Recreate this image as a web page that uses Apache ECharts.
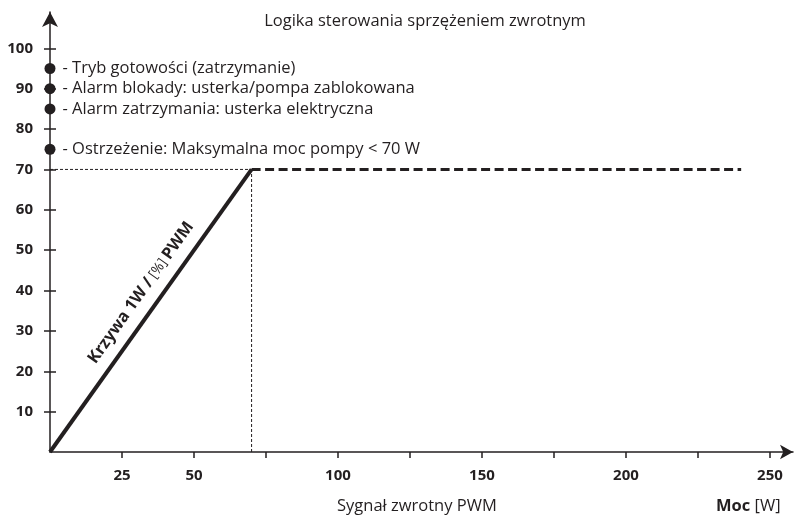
<!DOCTYPE html>
<html>
<head>
<meta charset="utf-8">
<script src="https://cdn.jsdelivr.net/npm/echarts@6/dist/echarts.min.js"></script>
<style>
  html, body { margin: 0; padding: 0; background: #fff; }
  #chart { width: 794px; height: 519px; }
</style>
</head>
<body>
<div id="chart"></div>
<script>
// Power feedback curve: linear ramp to the 70 W limit, then flat
const curvePoints = [[0, 0], [70, 70]];
const limitPoints = [[70, 70], [240, 70]];
const guideHorizontal = [[0, 70], [70, 70]];
const guideVertical = [[70, 0], [70, 70]];

// Status levels on the PWM axis
const statusLevels = [95, 90, 85, 75];
const statusTexts = [
  '- Tryb gotowości (zatrzymanie)',
  '- Alarm blokady: usterka/pompa zablokowana',
  '- Alarm zatrzymania: usterka elektryczna',
  '- Ostrzeżenie: Maksymalna moc pompy < 70 W'
];

// Axis ticks and labels
const xTickValues = [25, 50, 75, 100, 125, 150, 175, 200, 225, 250];
const xLabelValues = [25, 50, 100, 150, 200, 250];
const yTickValues = [10, 20, 30, 40, 50, 60, 70, 80, 90, 100];
const yLabelValues = [10, 20, 30, 40, 50, 60, 70, 80, 90, 100];

const INK = '#231f20';
const FONT = '"Open Sans", sans-serif';
const TEXT_SIZE = 16.5;

const chart = echarts.init(document.getElementById('chart'), null, { renderer: 'canvas' });

const yBase = {
  type: 'value',
  position: 'left',
  min: 0,
  max: 109,
  splitLine: { show: false },
  axisLine: { show: false }
};

chart.setOption({
  animation: false,
  backgroundColor: '#fff',
  textStyle: { fontFamily: FONT, color: INK },
  title: {
    text: 'Logika sterowania sprzężeniem zwrotnym',
    left: 420,
    textAlign: 'center',
    top: 8,
    textStyle: { fontFamily: FONT, fontSize: TEXT_SIZE, fontWeight: 'normal', color: INK }
  },
  grid: { left: 50, right: 1, top: 12, bottom: 67 },
  xAxis: {
    type: 'value',
    min: 0,
    max: 258,
    splitLine: { show: false },
    axisLine: {
      show: true,
      symbol: ['none', 'arrow'],
      symbolSize: [11, 13],
      lineStyle: { color: INK, width: 1.5 }
    },
    axisTick: {
      show: true,
      customValues: xTickValues,
      length: 6,
      lineStyle: { color: INK, width: 1.5 }
    },
    axisLabel: {
      customValues: xLabelValues,
      margin: 16,
      fontFamily: FONT,
      fontSize: 15,
      fontWeight: 'bold',
      color: INK
    }
  },
  yAxis: [
    Object.assign({}, yBase, {
      axisLine: {
        show: true,
        symbol: ['none', 'arrow'],
        symbolSize: [12, 15],
        lineStyle: { color: INK, width: 1.5 }
      },
      axisTick: {
        show: true,
        customValues: yTickValues,
        length: 6,
        lineStyle: { color: INK, width: 1.5 }
      },
      axisLabel: {
        customValues: yLabelValues,
        margin: 17,
        fontFamily: FONT,
        fontSize: 15,
        fontWeight: 'bold',
        color: INK
      }
    }),
    // mirror axis: inward half of the crossing tick marks
    Object.assign({}, yBase, {
      axisTick: {
        show: true,
        inside: true,
        customValues: yTickValues,
        length: 6,
        lineStyle: { color: INK, width: 1.5 }
      },
      axisLabel: { show: false }
    })
  ],
  graphic: [
    {
      type: 'text',
      left: 337,
      top: 498,
      style: { text: 'Sygnał zwrotny PWM', font: TEXT_SIZE + 'px ' + FONT, fill: INK }
    },
    {
      type: 'text',
      left: 716,
      top: 498,
      style: {
        text: '{b|Moc} [W]',
        font: TEXT_SIZE + 'px ' + FONT,
        fill: INK,
        rich: { b: { fontWeight: 'bold', fontSize: TEXT_SIZE, fontFamily: FONT, fill: INK } }
      }
    }
  ],
  series: [
    {
      type: 'line',
      data: guideHorizontal,
      symbol: 'none',
      clip: false,
      lineStyle: { color: INK, width: 1, type: [3, 2] },
      z: 2
    },
    {
      type: 'line',
      data: guideVertical,
      symbol: 'none',
      clip: false,
      lineStyle: { color: INK, width: 1, type: [3, 2] },
      z: 2
    },
    {
      type: 'line',
      data: limitPoints,
      symbol: 'none',
      clip: false,
      lineStyle: { color: INK, width: 3, type: [9, 4.5] },
      z: 3
    },
    {
      type: 'line',
      data: curvePoints,
      symbol: 'none',
      clip: false,
      lineStyle: { color: INK, width: 4 },
      z: 4,
      markLine: {
        silent: true,
        symbol: 'none',
        lineStyle: { color: 'rgba(0,0,0,0)', width: 0 },
        label: {
          show: true,
          position: 'insideMiddleTop',
          distance: 10,
          padding: [0, 0, 0, 18],
          formatter: '{b|Krzywa 1W /} {n|[%]} {b|PWM}',
          rich: {
            b: { fontFamily: FONT, fontSize: 16.5, fontWeight: 'bold', color: INK },
            n: { fontFamily: FONT, fontSize: 14, fontWeight: 'normal', color: INK }
          }
        },
        data: [[{ coord: curvePoints[0] }, { coord: curvePoints[1] }]]
      }
    },
    {
      type: 'scatter',
      data: statusLevels.map(v => [0, v]),
      symbol: 'circle',
      symbolSize: 11,
      clip: false,
      itemStyle: { color: INK, opacity: 1 },
      z: 5,
      label: {
        show: true,
        position: 'right',
        distance: 7,
        fontFamily: FONT,
        fontSize: TEXT_SIZE,
        color: INK,
        formatter: p => statusTexts[p.dataIndex]
      }
    }
  ]
});
</script>
</body>
</html>
